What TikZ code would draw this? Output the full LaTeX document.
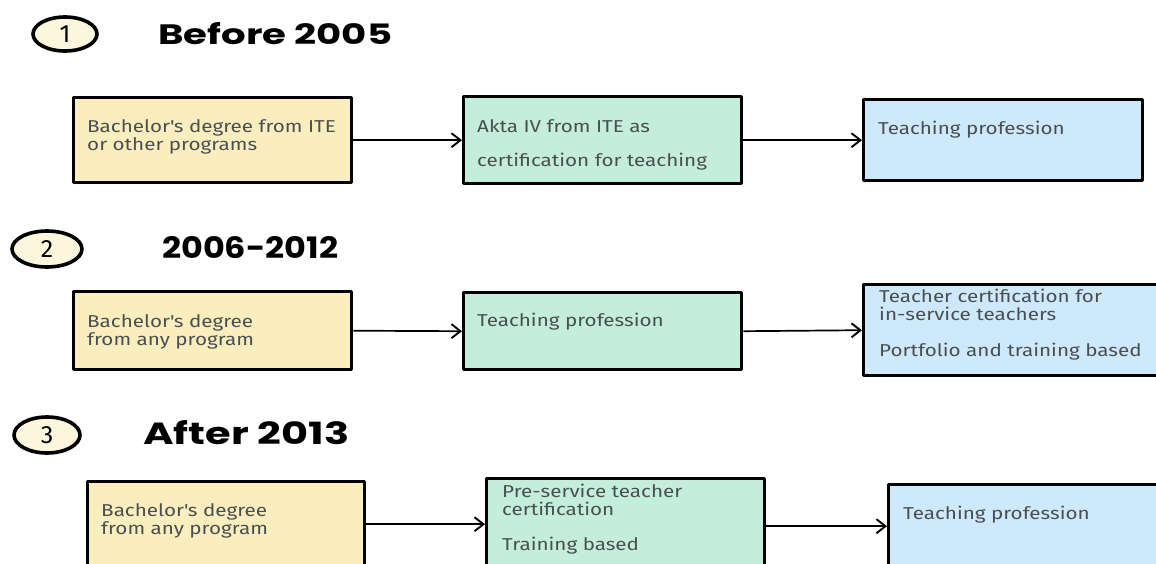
\documentclass[tikz,border=0pt]{standalone}
\usepackage{fontspec}
\setmainfont{Fira Sans}[FakeStretch=1.2]
\newfontfamily\titlefont{Poppins}
\newfontfamily\badgefont{Fira Sans}
\usetikzlibrary{arrows.meta,shapes.geometric}
\definecolor{ylw}{HTML}{FAEDBE}
\definecolor{grn}{HTML}{C4EEDC}
\definecolor{blu}{HTML}{CEE8FC}
\definecolor{cream}{HTML}{FCF6DC}
\definecolor{ink}{HTML}{4A4F52}
\newcommand{\apos}{\textquotesingle}
\tikzset{
  x=1pt, y=-1pt,
  card/.style={draw=black, line width=3.4pt, line join=round, inner sep=0pt, anchor=north west},
  yellowcard/.style={card, fill=ylw},
  greencard/.style={card, fill=grn},
  bluecard/.style={card, fill=blu},
  txt/.style={anchor=north west, inner sep=0pt, text=ink, align=left,
    font=\fontsize{17.2}{18}\selectfont},
  badge/.style={draw=black, line width=3.6pt, fill=cream, ellipse, inner sep=0pt,
    font=\badgefont\fontsize{25}{25}\selectfont},
  heading/.style={anchor=west, inner sep=0pt, font=\titlefont\bfseries\fontsize{24}{24}\selectfont},
  flow/.style={line width=1.7pt, -{Straight Barb[length=9pt,width=14pt,line width=1.9pt]}}
}
\begin{document}
\begin{tikzpicture}
\useasboundingbox (0,0) rectangle (1156,563);
\fill[white] (0,0) rectangle (1156,563);

% ---------- period 1 ----------
\node[badge, minimum width=64pt, minimum height=34pt] (b1) at (65,34) {1};
\node[heading] (h1) at (158,34) {\resizebox{234pt}{22pt}{Before 2005}};

\node[yellowcard, minimum width=278pt, minimum height=85pt] (a1) at (72,96) {};
\node[txt] (a1t) at (87,119) {Bachelor\apos s degree from ITE\\or other programs};
\node[greencard, minimum width=278pt, minimum height=87pt] (a2) at (462,95) {};
\node[txt] (a2t) at (477,119) {Akta IV from ITE as};
\node[txt] (a2u) at (477,153) {certification for teaching};
\node[bluecard, minimum width=279pt, minimum height=81pt] (a3) at (862,98) {};
\node[txt] (a3t) at (878,121) {Teaching profession};

\draw[flow] (a1.east) -- (a2.west);
\draw[flow] (a2.east) -- (a3.west);

% ---------- period 2 ----------
\node[badge, minimum width=70pt, minimum height=36pt] (b2) at (47,249) {2};
\node[heading] (h2) at (162,248) {\resizebox{176pt}{22pt}{2006-2012}};

\node[yellowcard, minimum width=278pt, minimum height=78pt] (c1) at (72,290) {};
\node[txt] (c1t) at (87,314) {Bachelor\apos s degree\\from any program};
\node[greencard, minimum width=278pt, minimum height=77pt] (c2) at (462,291) {};
\node[txt] (c2t) at (477,313) {Teaching profession};
\node[bluecard, minimum width=300pt, minimum height=91pt] (c3) at (862,283) {};
\node[txt] (c3t) at (879,289) {Teacher certification for\\in-service teachers};
\node[txt] (c3u) at (879,343) {Portfolio and training based};

\draw[flow] (c1.east) -- (c2.west);
\draw[flow] (c2.east) -- (c3.west);

% ---------- period 3 ----------
\node[badge, minimum width=66pt, minimum height=36pt] (b3) at (47,435) {3};
\node[heading] (h3) at (143,433) {\resizebox{206pt}{24pt}{After 2013}};

\node[yellowcard, minimum width=277pt, minimum height=95pt] (d1) at (86,480) {};
\node[txt] (d1t) at (101,503) {Bachelor\apos s degree\\from any program};
\node[greencard, minimum width=278pt, minimum height=95pt] (d2) at (485,477) {};
\node[txt] (d2t) at (502,484) {Pre-service teacher\\certification};
\node[txt] (d2u) at (502,537) {Training based};
\node[bluecard, minimum width=290pt, minimum height=86pt] (d3) at (887,483) {};
\node[txt] (d3t) at (903,506) {Teaching profession};

\draw[flow] (d1.east) ++(0,-5) coordinate (d1o) (d1o) -- (d2.west |- d1o);
\draw[flow] (d2.east) -- (d3.west |- d2.east);
\end{tikzpicture}
\end{document}
